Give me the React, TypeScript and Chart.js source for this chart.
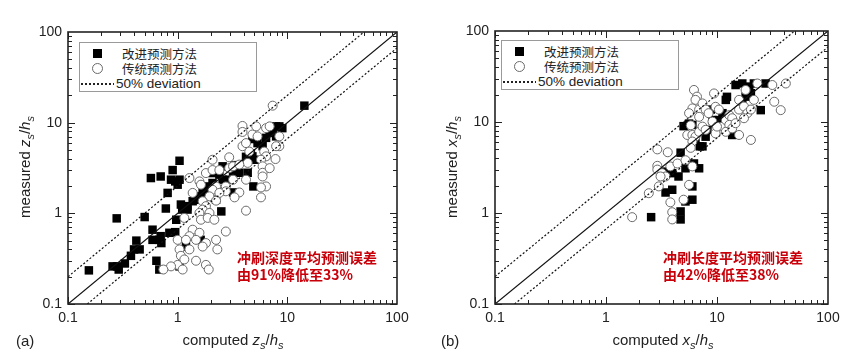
import React, { useEffect, useRef } from "react";
import { Chart, registerables } from "chart.js";

Chart.register(...registerables);

// ---------- data ----------
const AXIS_MIN = 0.1;
const AXIS_MAX = 100;
const AXIS_TICKS = [0.1, 1, 10, 100];
const PERFECT_LINE = [[0.1, 0.1], [100, 100]];
const UPPER_LINE = [[0.1, 0.2], [50, 100]];
const LOWER_LINE = [[0.15, 0.1], [100, 66.7]];

// panel (a): scour depth
const A_IMPROVED = [
  [0.155, 0.235], [0.278, 0.88], [0.255, 0.26], [0.28, 0.26], [0.29, 0.24], [0.33, 0.28],
  [0.375, 0.34], [0.4, 0.4], [0.45, 0.4], [0.42, 0.5], [0.5, 0.91], [0.57, 2.45],
  [0.7, 2.55], [0.59, 0.66], [0.59, 0.51], [0.68, 0.51], [0.7, 0.56], [0.71, 0.47],
  [0.64, 0.3], [0.68, 0.24], [0.78, 1.13], [0.81, 1.68], [0.9, 3.0], [0.87, 2.35],
  [0.95, 2.25], [1.04, 3.8], [1.0, 2.07], [1.04, 2.35], [0.97, 0.85], [0.95, 0.62],
  [0.84, 0.61], [1.07, 1.25], [1.1, 1.1], [1.23, 1.1], [1.23, 1.2], [1.37, 1.36],
  [1.47, 1.41], [1.58, 1.54], [1.69, 1.68], [1.75, 1.82], [1.88, 1.98], [2.08, 2.16],
  [2.4, 2.67], [2.57, 3.3], [2.5, 1.05], [2.57, 2.35], [2.95, 2.35], [3.2, 2.9],
  [3.3, 3.4], [3.2, 1.7], [3.65, 2.8], [4.2, 4.2], [4.35, 2.8], [4.5, 3.9],
  [4.65, 4.6], [4.8, 4.25], [5.0, 3.9], [4.9, 1.98], [4.8, 6.6], [5.35, 5.95],
  [5.95, 5.5], [6.4, 6.8], [6.9, 7.7], [7.35, 8.0], [7.9, 9.1], [8.45, 9.1],
  [9.0, 8.7], [7.9, 7.06], [14.3, 15.4], [1.62, 0.51], [1.19, 0.43], [1.04, 0.26],
  [2.24, 1.41], [2.08, 2.78],
];
const A_TRADITIONAL = [
  [7.35, 15.4], [3.9, 9.2], [3.9, 7.9], [4.8, 7.4], [5.2, 9.1], [6.4, 8.7], [6.9, 9.1],
  [3.9, 5.5], [4.2, 5.95], [4.5, 4.8], [4.35, 3.6], [5.35, 7.06], [6.15, 4.8], [6.4, 4.25],
  [5.75, 3.9], [5.95, 3.3], [5.95, 2.8], [5.95, 2.55], [6.9, 3.15], [7.8, 3.97], [8.45, 5.5],
  [8.45, 7.06], [7.9, 5.5], [6.4, 1.98], [5.75, 1.93], [5.75, 1.5], [4.2, 1.07], [3.65, 1.7],
  [3.3, 1.5], [2.95, 4.15], [2.08, 3.9], [1.28, 2.45], [1.58, 2.25], [1.63, 2.07], [1.81, 2.78],
  [2.08, 3.0], [2.4, 3.0], [2.95, 3.15], [3.2, 3.3], [3.65, 3.45], [4.2, 2.35], [3.2, 2.35],
  [2.24, 1.98], [2.08, 1.82], [2.75, 1.98], [2.75, 1.75], [2.4, 1.68], [1.95, 1.54], [1.69, 1.36],
  [1.37, 1.68], [1.81, 1.2], [1.69, 1.1], [1.58, 1.01], [1.95, 1.01], [2.24, 1.38], [1.63, 0.85],
  [1.88, 0.89], [2.16, 0.85], [1.15, 0.89], [2.75, 0.63], [1.37, 0.66], [1.58, 0.61], [1.28, 0.56],
  [1.0, 0.51], [1.19, 0.51], [1.47, 0.51], [1.81, 0.47], [2.24, 0.51], [1.69, 0.43], [1.04, 0.4],
  [1.28, 0.4], [2.3, 0.4], [1.07, 0.34], [1.47, 0.3], [1.0, 0.27], [1.11, 0.24], [0.87, 0.26],
  [0.74, 0.24], [1.81, 0.27], [1.92, 0.24], [1.15, 0.31],
];

// panel (b): scour length
const B_IMPROVED = [
  [2.55, 0.9], [4.7, 1.04], [4.7, 0.85], [5.2, 1.34], [6.0, 1.4], [6.0, 1.96], [3.44, 1.68],
  [3.95, 1.8], [4.7, 4.6], [3.44, 2.85], [3.95, 2.74], [4.5, 2.52], [5.2, 3.1], [6.2, 3.5],
  [6.9, 3.1], [5.0, 9.0], [5.6, 9.6], [6.0, 9.3], [6.4, 6.35], [7.0, 5.4], [7.4, 5.4],
  [7.9, 6.9], [8.2, 8.2], [8.8, 13.7], [9.1, 10.5], [12.0, 17.5], [12.3, 18.9], [14.7, 25.5],
  [16.9, 26.5], [19.5, 24.5], [21.5, 26.5], [18.1, 19.0], [16.9, 16.0], [20.2, 20.7], [24.8, 13.5],
  [27.4, 26.5], [13.7, 7.2], [10.4, 10.5], [11.2, 12.5],
];
const B_TRADITIONAL = [
  [1.72, 0.9], [2.43, 1.65], [2.99, 1.96], [3.8, 1.31], [3.95, 1.02], [3.95, 0.85], [5.0, 1.4],
  [5.6, 2.04], [2.9, 5.0], [3.6, 4.65], [2.9, 3.3], [2.9, 3.0], [3.2, 2.74], [3.44, 2.52],
  [3.1, 2.52], [3.8, 3.25], [4.4, 3.5], [5.2, 3.8], [6.0, 3.25], [6.2, 22.5], [6.6, 19.0],
  [6.4, 17.5], [6.0, 14.1], [5.6, 12.5], [6.9, 13.7], [7.4, 16.0], [7.9, 13.7], [8.4, 12.5],
  [6.9, 11.4], [5.8, 9.2], [5.4, 7.2], [6.0, 7.2], [6.4, 6.9], [6.0, 6.1], [5.8, 5.2],
  [6.9, 7.8], [7.4, 8.9], [7.9, 8.2], [9.1, 10.1], [9.4, 20.6], [9.7, 14.7], [10.4, 13.7],
  [10.4, 8.2], [11.2, 8.9], [12.0, 10.5], [12.9, 11.9], [13.7, 11.0], [12.9, 9.3], [12.0, 7.8],
  [13.7, 8.5], [14.7, 9.7], [15.8, 13.7], [15.8, 17.5], [17.5, 14.8], [18.8, 12.5], [17.5, 11.0],
  [20.2, 13.7], [21.5, 17.5], [15.8, 7.2], [20.2, 6.35], [18.1, 22.5], [23.1, 26.5], [31.5, 25.5],
  [32.8, 16.7], [37.5, 13.5], [41.7, 26.5], [9.7, 7.5], [10.0, 8.9],
];

const LEGEND_IMPROVED = "改进预测方法";
const LEGEND_TRADITIONAL = "传统预测方法";
const LEGEND_DEVIATION = "50% deviation";

const LATIN = '"Liberation Sans", Arial, Helvetica, sans-serif';
const CJK = '"Noto Sans CJK SC", "Noto Sans", sans-serif';

const toPts = (arr: number[][]) => arr.map(([x, y]) => ({ x, y }));

const isDecade = (v: number) => Math.abs(Math.log10(v) - Math.round(Math.log10(v))) < 1e-6;

const frameTicks = {
  id: "frameTicks",
  afterDraw(chart: any) {
    const { ctx, chartArea: a, scales } = chart;
    const xs = scales.x;
    const ys = scales.y;
    ctx.save();
    ctx.strokeStyle = "#222";
    ctx.lineWidth = 1;
    const seg = (x1: number, y1: number, x2: number, y2: number) => {
      ctx.beginPath();
      ctx.moveTo(x1, y1);
      ctx.lineTo(x2, y2);
      ctx.stroke();
    };
    for (let d = -1; d < 2; d++) {
      for (let m = 1; m < 10; m++) {
        const v = m * Math.pow(10, d);
        const len = m === 1 ? 7 : 4;
        const px = Math.round(xs.getPixelForValue(v)) + 0.5;
        seg(px, a.bottom, px, a.bottom - len);
        seg(px, a.top, px, a.top + len);
        const py = Math.round(ys.getPixelForValue(v)) + 0.5;
        seg(a.left, py, a.left + len, py);
        seg(a.right, py, a.right - len, py);
      }
    }
    ctx.lineWidth = 1.6;
    ctx.strokeRect(a.left, a.top, a.right - a.left, a.bottom - a.top);
    ctx.restore();
  },
};

type PanelProps = {
  left: number;
  improved: number[][];
  traditional: number[][];
  padTop: number;
  padRight: number;
  yWidth: number;
  varName: string;
  tag: string;
  note1: string;
  note2: string;
  noteLeft: number;
  legendLeft: number;
  legendTop: number;
  xTitleX: number;
  yTitleX: number;
  tagX: number;
};

function Panel(p: PanelProps) {
  const ref = useRef<HTMLCanvasElement | null>(null);
  useEffect(() => {
    if (!ref.current) return;
    const lineDs = (pts: number[][], dash: number[]) => ({
      type: "scatter" as const,
      data: toPts(pts),
      showLine: true,
      pointRadius: 0,
      borderColor: "#111",
      borderWidth: 1.2,
      borderDash: dash,
      fill: false,
      order: -1,
    });
    const tickFont = { family: LATIN, size: 14 };
    const chart = new Chart(ref.current, {
      type: "scatter",
      data: {
        datasets: [
          {
            label: LEGEND_TRADITIONAL,
            data: toPts(p.traditional),
            pointStyle: "circle",
            pointRadius: 4.5,
            backgroundColor: "#ffffff",
            borderColor: "#6a6a6a",
            borderWidth: 1,
            order: 0,
          },
          {
            label: LEGEND_IMPROVED,
            data: toPts(p.improved),
            pointStyle: "rect",
            pointRadius: 6,
            backgroundColor: "#000000",
            borderColor: "#000000",
            borderWidth: 0,
            order: 1,
          },
          lineDs(PERFECT_LINE, []),
          lineDs(UPPER_LINE, [2, 2]),
          lineDs(LOWER_LINE, [2, 2]),
        ] as any,
      },
      options: {
        responsive: false,
        animation: false,
        events: [],
        layout: { padding: { left: 0, top: p.padTop, right: p.padRight, bottom: 0 } },
        plugins: { legend: { display: false }, tooltip: { enabled: false } },
        scales: {
          x: {
            type: "logarithmic",
            min: AXIS_MIN,
            max: AXIS_MAX,
            grid: { display: false, drawTicks: false },
            border: { display: false },
            afterBuildTicks: (s: any) => {
              s.ticks = AXIS_TICKS.map((v) => ({ value: v }));
            },
            afterFit: (s: any) => {
              s.height = 54;
            },
            ticks: {
              autoSkip: false,
              maxRotation: 0,
              padding: 6,
              color: "#222",
              font: tickFont,
              callback: (v: any) => (isDecade(Number(v)) ? String(Number(v)) : ""),
            },
          },
          y: {
            type: "logarithmic",
            min: AXIS_MIN,
            max: AXIS_MAX,
            grid: { display: false, drawTicks: false },
            border: { display: false },
            afterBuildTicks: (s: any) => {
              s.ticks = AXIS_TICKS.map((v) => ({ value: v }));
            },
            afterFit: (s: any) => {
              s.width = p.yWidth;
            },
            ticks: {
              autoSkip: false,
              padding: 6,
              color: "#222",
              font: tickFont,
              callback: (v: any) => (isDecade(Number(v)) ? String(Number(v)) : ""),
            },
          },
        },
      } as any,
      plugins: [frameTicks],
    });
    return () => chart.destroy();
  }, []);

  const centered = (x: number, y: number): React.CSSProperties => ({
    position: "absolute",
    left: x,
    top: y,
    transform: "translate(-50%, -50%)",
    whiteSpace: "nowrap",
    lineHeight: 1,
  });
  const sub: React.CSSProperties = { fontSize: 11, verticalAlign: "-4px" };
  const axisTitle = (
    <>
      <i>{p.varName}</i>
      <i style={sub}>s</i>/<i>h</i>
      <i style={sub}>s</i>
    </>
  );

  return (
    <div style={{ position: "absolute", left: p.left, top: 0, width: 432, height: 358 }}>
      <canvas ref={ref} width={432} height={358} style={{ position: "absolute", left: 0, top: 0 }} />
      {/* legend */}
      <div
        style={{
          position: "absolute",
          left: p.legendLeft,
          top: p.legendTop,
          width: 178,
          height: 50,
          border: "1px solid #9a9a9a",
          background: "#fff",
          boxSizing: "border-box",
        }}
      >
        <div style={{ position: "absolute", left: 13, top: 6, width: 9, height: 9, background: "#000" }} />
        <div
          style={{
            position: "absolute",
            left: 12,
            top: 20,
            width: 9,
            height: 9,
            borderRadius: "50%",
            border: "1px solid #6a6a6a",
          }}
        />
        <div
          style={{
            position: "absolute",
            left: 1,
            top: 40,
            width: 33,
            height: 1.5,
            background: "repeating-linear-gradient(to right, #222 0 2px, transparent 2px 4px)",
          }}
        />
        <div style={{ position: "absolute", left: 42, top: 3, fontFamily: CJK, fontSize: 12.5, color: "#222", lineHeight: "16px" }}>
          {LEGEND_IMPROVED}
        </div>
        <div style={{ position: "absolute", left: 42, top: 18, fontFamily: CJK, fontSize: 12.5, color: "#222", lineHeight: "16px" }}>
          {LEGEND_TRADITIONAL}
        </div>
        <div style={{ position: "absolute", left: 36, top: 33, fontFamily: LATIN, fontSize: 13.5, color: "#222", lineHeight: "16px" }}>
          {LEGEND_DEVIATION}
        </div>
      </div>
      {/* annotation */}
      <div
        style={{
          position: "absolute",
          left: p.noteLeft,
          top: 249,
          fontFamily: CJK,
          fontSize: 14,
          fontWeight: 700,
          color: "#c8000a",
          lineHeight: "17px",
          whiteSpace: "nowrap",
        }}
      >
        <div>{p.note1}</div>
        <div>{p.note2}</div>
      </div>
      {/* axis titles */}
      <div style={{ ...centered(p.xTitleX, 341), fontFamily: LATIN, fontSize: 15, color: "#222" }}>
        computed {axisTitle}
      </div>
      <div
        style={{
          ...centered(p.yTitleX, 167),
          transform: "translate(-50%, -50%) rotate(-90deg)",
          fontFamily: LATIN,
          fontSize: 15,
          color: "#222",
        }}
      >
        measured {axisTitle}
      </div>
      <div style={{ position: "absolute", left: p.tagX, top: 333, fontFamily: LATIN, fontSize: 15, color: "#222", lineHeight: 1 }}>
        {p.tag}
      </div>
    </div>
  );
}

export default function App() {
  return (
    <div
      style={{
        position: "fixed",
        left: 0,
        top: 0,
        width: 864,
        height: 358,
        background: "#fff",
        overflow: "hidden",
      }}
    >
      <Panel
        left={0}
        improved={A_IMPROVED}
        traditional={A_TRADITIONAL}
        padTop={32}
        padRight={35}
        yWidth={68}
        varName="z"
        tag="(a)"
        note1="冲刷深度平均预测误差"
        note2="由91%降低至33%"
        noteLeft={237}
        legendLeft={79}
        legendTop={42}
        xTitleX={233}
        yTitleX={26}
        tagX={16}
      />
      <Panel
        left={432}
        improved={B_IMPROVED}
        traditional={B_TRADITIONAL}
        padTop={31}
        padRight={36}
        yWidth={63}
        varName="x"
        tag="(b)"
        note1="冲刷长度平均预测误差"
        note2="由42%降低至38%"
        noteLeft={231}
        legendLeft={69}
        legendTop={40}
        xTitleX={231}
        yTitleX={21}
        tagX={9}
      />
    </div>
  );
}
